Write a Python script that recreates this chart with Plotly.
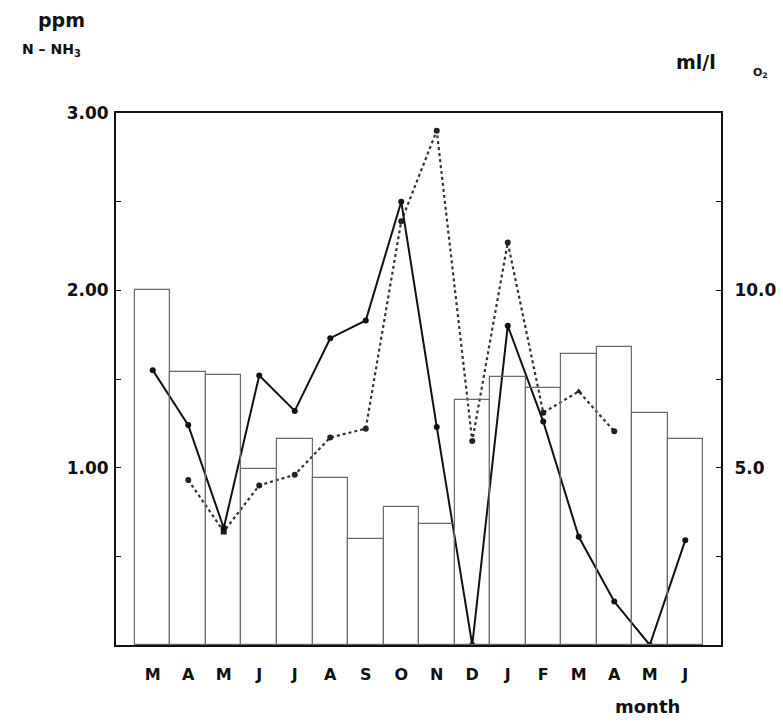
import plotly.graph_objects as go

months = ["M", "A", "M", "J", "J", "A", "S", "O", "N", "D", "J", "F", "M", "A", "M", "J"]
# bars: dissolved oxygen (ml/l O2, right axis)
o2_bars = [10.0, 7.7, 7.6, 4.95, 5.8, 4.7, 3.0, 3.9, 3.4, 6.9, 7.55, 7.25, 8.2, 8.4, 6.55, 5.8]
# solid line: ppm N-NH3 (left axis)
nh3_solid = [1.55, 1.24, 0.66, 1.52, 1.32, 1.73, 1.83, 2.50, 1.23, 0.0, 1.80, 1.26, 0.61, 0.245, 0.0, 0.59]
# dotted line: ppm N-NH3 (left axis)
nh3_dotted = [None, 0.93, 0.64, 0.90, 0.96, 1.17, 1.22, 2.39, 2.90, 1.15, 2.27, 1.31, 1.43, 1.205, None, None]

left_ticks = [1.0, 2.0, 3.0]
left_labels = ["1.00", "2.00", "3.00"]
right_ticks = [5.0, 10.0]
right_labels = ["5.0", "10.0"]

x = list(range(len(months)))
FONT = "DejaVu Sans"
INK = "#111111"

fig = go.Figure()
fig.add_trace(go.Bar(
    x=x, y=o2_bars, yaxis="y2", width=1.0,
    marker=dict(color="rgba(255,255,255,0)", line=dict(color="#6a6a6a", width=1.2)),
    showlegend=False, hoverinfo="skip",
))
fig.add_trace(go.Scatter(
    x=x, y=nh3_dotted, mode="lines+markers",
    line=dict(color="#333333", width=2.2, dash="dot"),
    marker=dict(color="#222222", size=6,
                symbol=["circle", "circle", "square", "circle", "circle", "circle", "circle", "circle",
                        "circle", "circle", "circle", "circle", "triangle-up", "circle", "circle", "circle"]),
    connectgaps=False, showlegend=False,
))
fig.add_trace(go.Scatter(
    x=x, y=nh3_solid, mode="lines+markers",
    line=dict(color=INK, width=2),
    marker=dict(color=INK, size=6),
    showlegend=False,
))

fig.update_layout(
    width=783, height=725,
    margin=dict(l=116, r=62, t=113, b=80, autoexpand=False),
    paper_bgcolor="white", plot_bgcolor="white",
    bargap=0,
    font=dict(family=FONT, color=INK),
    xaxis=dict(
        range=[-1.035, 16.007], tickmode="array", tickvals=x, ticktext=months,
        showline=True, linecolor=INK, linewidth=2, mirror=True, automargin=False,
        showgrid=False, zeroline=False, ticks="",
        tickfont=dict(family=FONT, size=16, weight="bold", color=INK),
        ticklabelstandoff=14,
    ),
    yaxis=dict(
        range=[0, 3], tickmode="array", tickvals=left_ticks, ticktext=left_labels,
        showline=True, linecolor=INK, linewidth=2, automargin=False,
        showgrid=False, zeroline=False, ticks="inside", ticklen=5, tickcolor=INK,
        minor=dict(dtick=0.5, ticks="inside", ticklen=5, tickcolor=INK, showgrid=False),
        tickfont=dict(family=FONT, size=17, weight="bold", color=INK),
        ticklabelstandoff=2,
    ),
    yaxis2=dict(
        range=[0, 15], overlaying="y", side="right", automargin=False,
        tickmode="array", tickvals=right_ticks, ticktext=right_labels,
        showline=True, linecolor=INK, linewidth=2,
        showgrid=False, zeroline=False, ticks="inside", ticklen=5, tickcolor=INK,
        minor=dict(dtick=2.5, ticks="inside", ticklen=5, tickcolor=INK, showgrid=False),
        tickfont=dict(family=FONT, size=17, weight="bold", color=INK),
        ticklabelstandoff=8,
    ),
    annotations=[
        dict(text="<b>ppm</b>", xref="paper", yref="paper", x=-0.0909, y=1.1748,
             xanchor="center", yanchor="middle",
             showarrow=False, font=dict(family=FONT, size=19, color=INK)),
        dict(text="<b>N – NH<sub>3</sub></b>", xref="paper", yref="paper", x=-0.1058, y=1.1184,
             xanchor="center", yanchor="middle",
             showarrow=False, font=dict(family=FONT, size=14, color=INK)),
        dict(text="<b>ml/l</b>", xref="paper", yref="paper", x=0.9587, y=1.0959,
             xanchor="center", yanchor="middle",
             showarrow=False, font=dict(family=FONT, size=19, color=INK)),
        dict(text="<b>O<sub>2</sub></b>", xref="paper", yref="paper", x=1.0661, y=1.0752,
             xanchor="center", yanchor="middle",
             showarrow=False, font=dict(family=FONT, size=11, color=INK)),
        dict(text="<b>month</b>", xref="paper", yref="paper", x=0.879, y=-0.1147,
             xanchor="center", yanchor="middle",
             showarrow=False, font=dict(family=FONT, size=18, color=INK)),
    ],
)

fig.write_html("out.html")
